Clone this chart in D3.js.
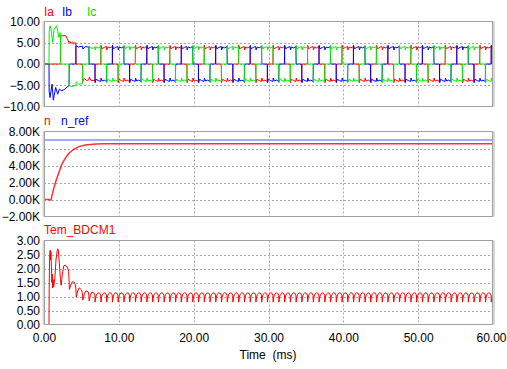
<!DOCTYPE html>
<html><head><meta charset="utf-8">
<script src="https://cdn.jsdelivr.net/npm/d3@7/dist/d3.min.js"></script>
<style>
html,body{margin:0;padding:0;background:#fff;}
svg{display:block;font-family:"Liberation Sans",Arial,sans-serif;}
</style></head>
<body>
<svg id="chart" width="507" height="369"></svg>
<script>
// ---------------- DATA ----------------
const timeTicks = [0, 10, 20, 30, 40, 50, 60];
const currentTicks = [-10, -5, 0, 5, 10];
const speedTicks = [-2000, 0, 2000, 4000, 6000, 8000];
const torqueTicks = [0, 0.5, 1, 1.5, 2, 2.5, 3];

// commutation instants (ms)
const commTimes = [0.67, 2.20, 3.35, 4.25, 5.15, 6.00, 6.80, 7.58,
  8.35, 9.12, 9.88, 10.65, 11.42, 12.19, 12.95, 13.72, 14.49, 15.25, 16.02, 16.79,
  17.55, 18.32, 19.09, 19.86, 20.62, 21.39, 22.16, 22.92, 23.69, 24.46, 25.22, 25.99,
  26.76, 27.53, 28.29, 29.06, 29.83, 30.59, 31.36, 32.13, 32.89, 33.66, 34.43, 35.20,
  35.96, 36.73, 37.50, 38.26, 39.03, 39.80, 40.56, 41.33, 42.10, 42.87, 43.63, 44.40,
  45.17, 45.93, 46.70, 47.47, 48.23, 49.00, 49.77, 50.54, 51.30, 52.07, 52.84, 53.60,
  54.37, 55.14, 55.90, 56.67, 57.44, 58.21, 58.97, 59.74];
// conducting pair (positive phase, negative phase) for each 60-degree step
const conductionPattern = [["c", "b"], ["a", "b"], ["a", "c"], ["b", "c"], ["b", "a"], ["c", "a"]];

// start-up currents (ms, A)
const iaStart = [[0,0],[2.20,0],[2.22,6.6],[2.9,6.7],[3.1,6.0],[3.35,5.0],[3.45,5.3],[3.6,4.8],[3.8,5.2],[4.0,4.9],[4.25,5.0],[4.29,0],[5.15,0],[5.18,-4.0],[5.4,-3.4],[5.7,-3.9],[6.0,-3.7],[6.05,-3.1],[6.3,-3.9],[6.8,-3.8]];
const ibStart = [[0,0],[0.67,0],[0.69,-6.5],[0.8,-7.9],[1.07,-4.75],[1.25,-8.5],[1.56,-5.5],[1.83,-7.1],[2.05,-5.9],[2.36,-6.3],[2.8,-5.9],[3.1,-5.4],[3.35,-5.1],[3.39,0],[4.25,0],[4.27,4.3],[4.6,4.0],[5.15,4.2],[5.2,3.5],[5.5,4.1],[6.0,4.0],[6.04,0],[6.8,0]];
const icStart = [[0,0],[0.67,0],[0.69,7.5],[0.8,9.0],[0.95,8.0],[1.16,5.1],[1.34,8.2],[1.69,9.0],[2.0,6.2],[2.14,7.4],[2.20,7.0],[2.23,0],[3.35,0],[3.37,-5.1],[3.7,-5.3],[4.25,-5.0],[4.3,-4.2],[4.7,-4.8],[5.15,-4.6],[5.18,0],[6.0,0],[6.02,4.2],[6.3,3.7],[6.8,3.8]];
// steady-state current shape within one step (fraction of step, |A|)
const incomingShape = [[0,0],[0.05,4.4],[0.2,3.6],[0.6,3.9],[1,4.1]];
const continuingShape = [[0,4.1],[0.06,3.3],[0.25,4.0],[0.6,3.8],[1,4.1]];
const outgoingShape = [[0,4.1],[0.06,0],[1,0]];
const idleShape = [[0,0],[1,0]];

// speed (ms, rpm)
const nPoints = [[0,0],[0.67,0],[0.75,-60],[0.95,-60],[1.1,600],[1.3,1300],[1.6,2200],[1.9,2950],[2.3,3950],[2.6,4500],[3.0,5050],[3.4,5500],[3.9,5850],[4.4,6100],[4.8,6250],[5.5,6400],[6.2,6480],[7.0,6520],[8.0,6545],[10,6555],[60,6555]];
const nRefPoints = [[0,7000],[60,7000]];

// torque (ms, N·m)
const torqueStart = [[0,0],[0.67,0],[0.7,1.5],[0.76,2.5],[0.82,2.65],[0.88,2.3],[0.92,2.62],[0.98,2.2],[1.05,1.5],[1.1,1.8],[1.16,1.3],[1.22,1.6],[1.3,1.35],[1.45,1.65],[1.6,2.3],[1.8,2.7],[1.9,2.68],[2.05,2.2],[2.2,1.6],[2.3,1.4],[2.45,1.8],[2.65,2.1],[2.85,2.12],[3.1,2.05],[3.3,1.9],[3.4,1.25],[3.55,1.4],[3.8,1.53],[4.1,1.5],[4.25,1.3],[4.32,0.98],[4.5,1.2],[4.7,1.31],[5.0,1.24],[5.15,1.1],[5.19,0.87],[5.4,1.1],[5.6,1.2],[5.9,1.17],[6.0,1.05],[6.04,0.84],[6.2,1.05],[6.4,1.16],[6.7,1.12],[6.8,1.05]];
const torqueArc = [[0,1.05],[0.04,0.8],[0.15,0.98],[0.3,1.08],[0.55,1.13],[0.8,1.12],[1,1.05]];
const steadyFrom = 6; // index in commTimes where steady shapes start

// ---------------- BUILD SERIES ----------------
function stepEnd(j) {
  return j + 1 < commTimes.length ? commTimes[j + 1] : commTimes[j] + (commTimes[j] - commTimes[j - 1]);
}
function phaseSeries(phase, startPts) {
  const pts = startPts.slice();
  for (let j = steadyFrom; j < commTimes.length; j++) {
    const t0 = commTimes[j], t1 = stepEnd(j);
    const [pos, neg] = conductionPattern[j % 6];
    const [ppos, pneg] = conductionPattern[(j + 5) % 6];
    let sign = 0, shape = idleShape;
    if (pos === phase) { sign = 1; shape = ppos === phase ? continuingShape : incomingShape; }
    else if (neg === phase) { sign = -1; shape = pneg === phase ? continuingShape : incomingShape; }
    else if (ppos === phase) { sign = 1; shape = outgoingShape; }
    else if (pneg === phase) { sign = -1; shape = outgoingShape; }
    shape.forEach(([f, m]) => pts.push([t0 + f * (t1 - t0), sign * m]));
  }
  return pts;
}
function torqueSeries() {
  const pts = torqueStart.slice();
  for (let j = steadyFrom; j < commTimes.length; j++) {
    const t0 = commTimes[j], t1 = stepEnd(j);
    torqueArc.forEach(([f, v]) => pts.push([t0 + f * (t1 - t0), v]));
  }
  return pts;
}

// ---------------- DRAW ----------------
const svg = d3.select("#chart");
const x = d3.scaleLinear().domain([0, 60]).range([44, 493]);
const panels = [
  { top: 21.5, bottom: 106.5, domain: [-10, 10], ticks: currentTicks, fmt: d3.format(".2f"),
    series: [
      { pts: phaseSeries("a", iaStart), color: "#ff0000", w: 1 },
      { pts: phaseSeries("b", ibStart), color: "#0000ff", w: 1 },
      { pts: phaseSeries("c", icStart), color: "#00ee00", w: 1 }],
    legend: [{ t: "Ia", x: 44, c: "#ff0000" }, { t: "Ib", x: 62, c: "#0000ff" }, { t: "Ic", x: 87, c: "#00dd00" }],
    legendY: 16 },
  { top: 131.5, bottom: 216.5, domain: [-2000, 8000], ticks: speedTicks, fmt: v => d3.format(".2f")(v / 1000) + "K",
    series: [
      { pts: nRefPoints, color: "#a4aaff", w: 2 },
      { pts: nPoints, color: "#ff3030", w: 1.5 }],
    legend: [{ t: "n", x: 44, c: "#ff0000" }, { t: "n_ref", x: 61, c: "#0000ff" }],
    legendY: 125 },
  { top: 240.5, bottom: 324.5, domain: [0, 3], ticks: torqueTicks, fmt: d3.format(".2f"),
    series: [{ pts: torqueSeries(), color: "#ff0000", w: 1 }],
    legend: [{ t: "Tem_BDCM1", x: 44, c: "#ff0000" }],
    legendY: 234 }
];

panels.forEach((p, i) => {
  const y = d3.scaleLinear().domain(p.domain).range([p.bottom, p.top]);
  const g = svg.append("g");
  // side strips
  g.append("rect").attr("x", 42.5).attr("y", p.top).attr("width", 2).attr("height", p.bottom - p.top).attr("fill", "#d6d6d6");
  g.append("rect").attr("x", 493).attr("y", p.top).attr("width", 2).attr("height", p.bottom - p.top).attr("fill", "#d6d6d6");
  // grid
  g.selectAll(".vg").data(timeTicks.slice(1, -1)).enter().append("line")
    .attr("x1", d => Math.round(x(d)) + 0.5).attr("x2", d => Math.round(x(d)) + 0.5)
    .attr("y1", p.top).attr("y2", p.bottom)
    .attr("stroke", "#a8a8a8").attr("stroke-dasharray", "2,2");
  g.selectAll(".hg").data(p.ticks.slice(1, -1)).enter().append("line")
    .attr("x1", x(0)).attr("x2", x(60))
    .attr("y1", d => Math.round(y(d)) + 0.5).attr("y2", d => Math.round(y(d)) + 0.5)
    .attr("stroke", "#a8a8a8").attr("stroke-dasharray", "2,2");
  // clip
  const cid = "clip" + i;
  svg.append("clipPath").attr("id", cid).append("rect")
    .attr("x", x(0)).attr("y", p.top).attr("width", x(60) - x(0)).attr("height", p.bottom - p.top);
  const line = d3.line().x(d => x(d[0])).y(d => y(d[1]));
  const lg = g.append("g").attr("clip-path", `url(#${cid})`);
  p.series.forEach(s => {
    lg.append("path").attr("d", line(s.pts)).attr("fill", "none")
      .attr("stroke", s.color).attr("stroke-width", s.w).attr("stroke-linejoin", "round");
  });
  // border
  g.append("rect").attr("x", x(0) + 0.5).attr("y", p.top).attr("width", x(60) - x(0) - 1).attr("height", p.bottom - p.top)
    .attr("fill", "none").attr("stroke", "#a0a0a0");
  // y axis
  const ax = g.append("g").attr("transform", `translate(${x(0)},0)`)
    .call(d3.axisLeft(y).tickValues(p.ticks).tickFormat(p.fmt).tickSize(0).tickPadding(4));
  ax.select(".domain").remove();
  ax.selectAll("text").attr("font-size", 12).attr("fill", "#000").attr("font-family", "Liberation Sans, Arial, sans-serif");
  // legend
  p.legend.forEach(l => {
    g.append("text").attr("x", l.x).attr("y", p.legendY).text(l.t)
      .attr("font-size", 12).attr("fill", l.c);
  });
  if (i === 2) {
    const xa = g.append("g").attr("transform", `translate(0,${p.bottom})`)
      .call(d3.axisBottom(x).tickValues(timeTicks).tickFormat(d3.format(".2f")).tickSize(0).tickPadding(9));
    xa.select(".domain").remove();
    xa.selectAll("text").attr("font-size", 12).attr("fill", "#000").attr("font-family", "Liberation Sans, Arial, sans-serif");
    // keep the last label inside the window
    xa.selectAll(".tick").filter(d => d === 60).select("text")
      .attr("text-anchor", "end").attr("x", 506 - x(60));
  }
});
svg.append("text").attr("x", 268).attr("y", 359).attr("text-anchor", "middle")
  .attr("font-size", 12).attr("fill", "#000").style("white-space", "pre").text("Time  (ms)");
</script>
</body></html>
